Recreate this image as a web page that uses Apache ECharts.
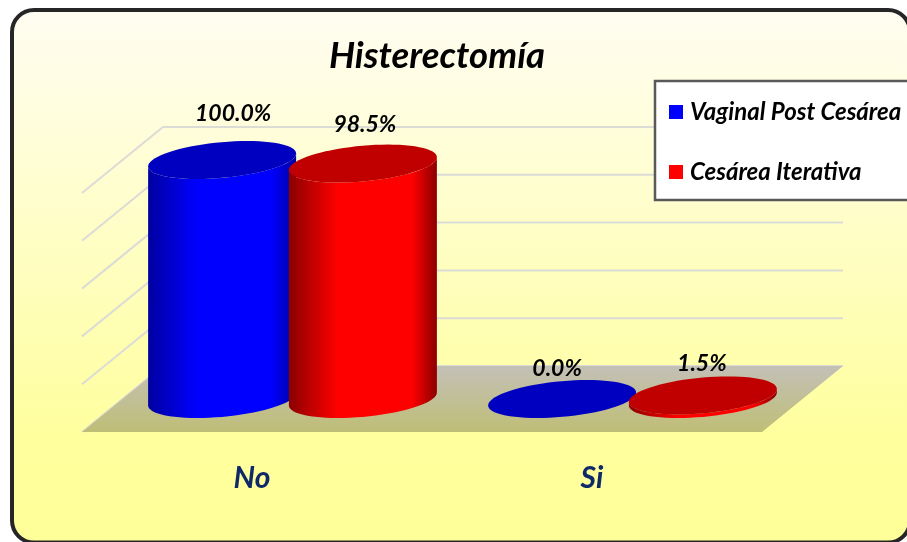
<!DOCTYPE html>
<html>
<head>
<meta charset="utf-8">
<title>Histerectomía</title>
<script src="https://cdn.jsdelivr.net/npm/echarts@6/dist/echarts.min.js"></script>
<style>
  html, body { margin: 0; padding: 0; background: #fff; }
  #chart { width: 907px; height: 542px; }
</style>
</head>
<body>
<div id="chart"></div>
<script>
/* ── data ── */
const CATEGORIES = ['No', 'Si']
const SERIES_NAMES = ['Vaginal Post Cesárea', 'Cesárea Iterativa']
const VAGINAL = [100.0, 0.0]
const ITERATIVA = [98.5, 1.5]
const Y_TICKS = [0, 20, 40, 60, 80, 100]

/* ── look ── */
const FONT = 'Lato'
const DEPTH = [81, -66]            // floor depth vector, px
const RX = 74, RY = 19, SKEW = 25  // cylinder ellipse
const BLUE = { main: '#0000ff', edge: '#0000a0', top: '#0000c0' }
const RED = { main: '#ff0000', edge: '#8b0000', top: '#c00000' }
// hand placed labels in the original: [dx, dy] from top of the cylinder
const NUDGE = [
  [[11, -46], [-5, -30]],
  [[2, -39], [-1, -32]],
]
const STEPS = 36
const HALF_A = Math.sqrt(RX * RX - SKEW * SKEW)
const T_RIGHT = Math.atan2(SKEW, HALF_A)   // angle of the rightmost point

// point on the tilted ellipse, t in radians
function ellipsePoint(c, t) {
  return [c[0] + HALF_A * Math.cos(t) + SKEW * Math.sin(t), c[1] - RY * Math.sin(t)]
}

function ellipse(c) {
  const pts = []
  for (let i = 0; i < STEPS * 2; i++) pts.push(ellipsePoint(c, (i / STEPS) * Math.PI))
  return pts
}

// outline of the side: lower half of base, then lower half of top
function sideOutline(base, top) {
  const pts = []
  for (let i = 0; i <= STEPS; i++) pts.push(ellipsePoint(base, T_RIGHT - (i / STEPS) * Math.PI))
  for (let i = 0; i <= STEPS; i++) pts.push(ellipsePoint(top, T_RIGHT - Math.PI + (i / STEPS) * Math.PI))
  return pts
}

function cylinderSeries(name, values, colors, idx) {
  return {
    name,
    type: 'custom',
    coordinateSystem: 'cartesian2d',
    itemStyle: { color: colors.main },
    clip: false,
    z: 5 + idx,
    data: values.map((v, i) => [i, v]),
    renderItem(params, api) {
      const cat = api.value(0), val = api.value(1)
      const side = idx === 0 ? -1 : 1
      const shift = side * api.size([1, 0])[0] * 0.207 + DEPTH[0] / 2
      const b = api.coord([cat, 0])
      const t = api.coord([cat, val])
      const base = [b[0] + shift, b[1] + DEPTH[1] / 2]
      const top = [t[0] + shift, t[1] + DEPTH[1] / 2]
      const nudge = NUDGE[idx][cat]
      const children = []
      if (val > 0) {
        children.push({
          type: 'polygon',
          shape: { points: sideOutline(base, top) },
          style: {
            fill: new echarts.graphic.LinearGradient(0, 0, 1, 0, [
              { offset: 0, color: colors.edge },
              { offset: 0.33, color: colors.main },
              { offset: 0.83, color: colors.main },
              { offset: 1, color: colors.edge },
            ]),
          },
        })
      }
      children.push({
        type: 'polygon',
        shape: { points: ellipse(top) },
        style: { fill: colors.top },
      })
      children.push({
        type: 'text',
        style: {
          text: val.toFixed(1) + '%',
          x: top[0] + nudge[0],
          y: top[1] + nudge[1],
          align: 'center',
          verticalAlign: 'middle',
          font: 'italic bold 23px ' + FONT,
          fill: '#000',
        },
      })
      return { type: 'group', children }
    },
  }
}

const option = {
  animation: false,
  backgroundColor: '#fff',
  textStyle: { fontFamily: FONT },
  graphic: [{
    type: 'rect',
    z: -1,
    shape: { x: 12, y: 10, width: 898, height: 532.5, r: 22 },
    style: {
      fill: new echarts.graphic.LinearGradient(0, 0, 0, 1, [
        { offset: 0, color: '#fffdf2' },
        { offset: 0.8, color: '#ffff9e' },
        { offset: 1, color: '#ffff99' },
      ]),
      stroke: '#262626',
      lineWidth: 4,
    },
  }],
  title: {
    text: 'Histerectomía',
    left: 432,
    top: 33,
    textAlign: 'center',
    textStyle: { fontFamily: FONT, fontSize: 36.5, fontWeight: 'bold', fontStyle: 'italic', color: '#000' },
  },
  legend: {
    data: SERIES_NAMES,
    orient: 'vertical',
    left: 655,
    top: 81,
    padding: [19, 12, 16, 14],
    itemWidth: 14,
    itemHeight: 14,
    itemGap: 36,
    icon: 'rect',
    backgroundColor: '#fff',
    borderColor: '#595959',
    borderWidth: 2.5,
    z: 20,
    textStyle: { fontFamily: FONT, fontSize: 24, fontWeight: 'bold', fontStyle: 'italic', color: '#000', padding: [0, 0, 0, 2] },
  },
  grid: { left: 82, top: 193, width: 680, height: 239 },
  xAxis: {
    type: 'category',
    data: CATEGORIES,
    axisLine: { show: false },
    axisTick: { show: false },
    axisLabel: {
      margin: 31,
      color: '#0f2a68',
      fontFamily: FONT,
      fontSize: 30,
      fontWeight: 'bold',
      fontStyle: 'italic',
    },
  },
  yAxis: {
    type: 'value',
    min: 0,
    max: 100,
    interval: 20,
    axisLine: { show: false },
    axisTick: { show: false },
    axisLabel: { show: false },
    splitLine: { show: false },
  },
  series: [
    // floor
    {
      type: 'custom',
      silent: true,
      clip: false,
      z: 2,
      data: [[0, 0]],
      renderItem(params, api) {
        const cs = params.coordSys
        const y = api.coord([0, 0])[1]
        const x0 = cs.x, x1 = cs.x + cs.width
        return {
          type: 'polygon',
          shape: { points: [[x0, y], [x1, y], [x1 + DEPTH[0], y + DEPTH[1]], [x0 + DEPTH[0], y + DEPTH[1]]] },
          style: {
            fill: new echarts.graphic.LinearGradient(0, 0, 0, 1, [
              { offset: 0, color: '#c3c0b7' },
              { offset: 1, color: '#bfbe76' },
            ]),
          },
        }
      },
    },
    // back wall and side wall lines, one per tick
    {
      type: 'custom',
      silent: true,
      clip: false,
      z: 1,
      data: Y_TICKS.map(t => [0, t]),
      renderItem(params, api) {
        const cs = params.coordSys
        const y = api.coord([0, api.value(1)])[1]
        const x0 = cs.x, x1 = cs.x + cs.width
        return {
          type: 'polyline',
          shape: { points: [[x0, y], [x0 + DEPTH[0], y + DEPTH[1]], [x1 + DEPTH[0], y + DEPTH[1]]] },
          style: { stroke: '#dcdcd6', lineWidth: 2, fill: null },
        }
      },
    },
    cylinderSeries(SERIES_NAMES[0], VAGINAL, BLUE, 0),
    cylinderSeries(SERIES_NAMES[1], ITERATIVA, RED, 1),
  ],
}

const chart = echarts.init(document.getElementById('chart'), null, { renderer: 'canvas' })
chart.setOption(option)
</script>
</body>
</html>
